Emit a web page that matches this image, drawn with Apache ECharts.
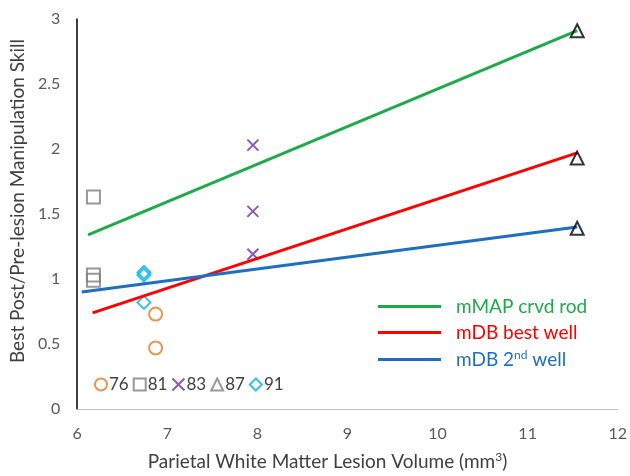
<!DOCTYPE html>
<html><head><meta charset="utf-8">
<script src="https://cdn.jsdelivr.net/npm/echarts@6/dist/echarts.min.js"></script>
<style>html,body{margin:0;padding:0;background:#fff}#c{width:630px;height:476px}</style>
</head><body><div id="c"></div>
<script>
// Scatter data: [lesion volume, skill ratio]
const rat76 = [[6.87, 0.73], [6.87, 0.47]];
const rat81 = [[6.18, 1.63], [6.18, 1.03], [6.18, 0.99]];
const rat83 = [[7.95, 2.03], [7.95, 1.52], [7.95, 1.19]];
const rat87 = [[11.55, 2.91], [11.55, 1.93], [11.55, 1.39]];
const rat91 = [[6.74, 1.05], [6.74, 1.03], [6.74, 0.82]];
// Trend lines endpoints
const trendMMAP = [[6.12, 1.34], [11.55, 2.91]];
const trendBest = [[6.17, 0.74], [11.55, 1.97]];
const trend2nd = [[6.05, 0.90], [11.55, 1.40]];
const xTicks = [6, 7, 8, 9, 10, 11, 12];
const yTicks = [0, 0.5, 1, 1.5, 2, 2.5, 3];

const F = 'Lato, "Noto Sans", sans-serif';
const chart = echarts.init(document.getElementById('c'), null, {renderer: 'canvas'});
const hollow = (c) => ({color: 'rgba(255,255,255,0)', borderColor: c, borderWidth: 2});
chart.setOption({
  animation: false,
  textStyle: {fontFamily: F},
  grid: {left: 77, right: 10, top: 19, bottom: 64},
  xAxis: {
    type: 'value', min: xTicks[0], max: xTicks[xTicks.length-1], interval: 1,
    axisLine: {lineStyle: {color: '#bfbfbf', width: 1}},
    axisTick: {show: false}, splitLine: {show: false},
    axisLabel: {color: '#595959', fontSize: 16, margin: 17, fontFamily: F},
    name: 'Parietal White Matter Lesion Volume (mm{sup|3})',
    nameLocation: 'middle', nameGap: 42,
    nameTextStyle: {color: '#404040', fontSize: 19, fontFamily: F, padding: [0, 40, 0, 0],
      rich: {sup: {fontSize: 12, verticalAlign: 'top', padding: [0,0,9,0], color: '#404040', fontFamily: F}}}
  },
  yAxis: {
    type: 'value', min: yTicks[0], max: yTicks[yTicks.length-1], interval: 0.5,
    axisLine: {show: true, lineStyle: {color: '#000', width: 1.5}},
    axisTick: {show: false}, splitLine: {show: false},
    axisLabel: {color: '#595959', fontSize: 16, margin: 17, fontFamily: F},
    name: 'Best Post/Pre-lesion Manipulation Skill',
    nameLocation: 'middle', nameGap: 43,
    nameTextStyle: {color: '#404040', fontSize: 19, fontFamily: F, padding: [0,0,0,26]}
  },
  legend: [{
    orient: 'vertical', left: 378, top: 297, itemGap: 7, padding: 0,
    itemWidth: 63, itemHeight: 3, icon: 'rect',
    data: [
      {name: 'mMAP crvd rod', textStyle: {color: '#1faa4a'}},
      {name: 'mDB best well', textStyle: {color: '#ff0000'}},
      {name: 'mDB 2nd well', textStyle: {color: '#1f6fc0'}}
    ],
    formatter: (n) => n === 'mDB 2nd well' ? 'mDB 2{sup|nd} well' : n,
    textStyle: {fontSize: 19, fontFamily: F, padding: [0,0,0,10],
      rich: {sup: {fontSize: 12, verticalAlign: 'top', padding: [0,0,9,0], color: '#1f6fc0', fontFamily: F}}}
  }, {
    orient: 'horizontal', left: 94, top: 376, itemGap: 4, padding: 0,
    itemWidth: 12, itemHeight: 12,
    data: ['76', '81', '83', {name: '87', itemStyle: {borderColor: '#7f7f7f'}}, '91'],
    textStyle: {fontSize: 17, color: '#404040', fontFamily: F, padding: [0,0,0,-3]}
  }],
  series: [
    {name: 'mMAP crvd rod', type: 'line', data: trendMMAP, symbol: 'none', lineStyle: {color: '#1faa4a', width: 3}, itemStyle: {color: '#1faa4a'}},
    {name: 'mDB best well', type: 'line', data: trendBest, symbol: 'none', lineStyle: {color: '#ff0000', width: 3}, itemStyle: {color: '#ff0000'}},
    {name: 'mDB 2nd well', type: 'line', data: trend2nd, symbol: 'none', lineStyle: {color: '#1f6fc0', width: 3}, itemStyle: {color: '#1f6fc0'}},
    {name: '76', type: 'scatter', data: rat76, symbol: 'circle', symbolSize: 13, itemStyle: hollow('#e07b2a')},
    {name: '81', type: 'scatter', data: rat81, symbol: 'rect', symbolSize: 13, itemStyle: hollow('#808080')},
    {name: '83', type: 'scatter', data: rat83, symbol: 'path://M0,0L10,10M10,0L0,10', symbolSize: 11, itemStyle: hollow('#7030a0')},
    {name: '87', type: 'scatter', data: rat87, symbol: 'triangle', symbolSize: 13, itemStyle: hollow('#000000'), z: 5},
    {name: '91', type: 'scatter', data: rat91, symbol: 'diamond', symbolSize: 13, itemStyle: hollow('#00b0f0')}
  ]
});
</script></body></html>
